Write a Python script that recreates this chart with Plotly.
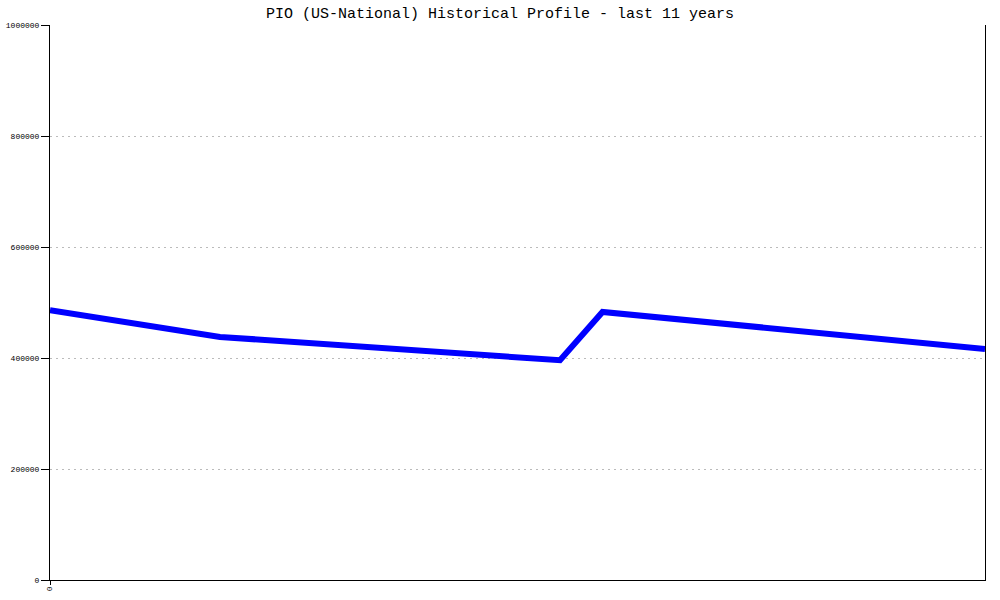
import plotly.graph_objects as go

years = [0, 2, 6, 6.5, 11]
values = [486000, 438000, 396000, 483000, 416000]
y_ticks = [0, 200000, 400000, 600000, 800000, 1000000]
title = "PIO (US-National) Historical Profile - last 11 years"

fig = go.Figure()
fig.add_trace(go.Scatter(x=years, y=values, mode="lines",
                         line=dict(color="#0000ff", width=6), hoverinfo="skip"))

fig.update_layout(
    width=1000, height=600,
    margin=dict(l=50, r=15, t=25, b=20, autoexpand=False),
    paper_bgcolor="white", plot_bgcolor="white",
    showlegend=False,
    title=dict(text=title, x=0.5, xanchor="center", y=1 - 13 / 600, yanchor="middle",
               font=dict(family="Liberation Mono", size=15, color="black")),
    font=dict(family="Liberation Mono", size=8, color="black"),
)
fig.update_xaxes(range=[0, 11], tickvals=[0], ticktext=["0"], tickangle=90,
                 automargin=False,
                 showgrid=False, zeroline=False, showline=True, linecolor="black",
                 linewidth=1, ticks="outside", ticklen=4, tickcolor="black",
                 tickfont=dict(family="Liberation Mono", size=8))
fig.update_yaxes(range=[0, 1000000], tickvals=y_ticks, ticktext=[str(v) for v in y_ticks],
                 automargin=False,
                 showgrid=True, gridcolor="#bbbbbb", griddash="2px,4px", gridwidth=1,
                 zeroline=False, showline=True, linecolor="black", linewidth=1,
                 mirror=True, ticks="outside", ticklen=8, tickcolor="black",
                 tickfont=dict(family="Liberation Mono", size=8))

div = fig.to_html(full_html=False, include_plotlyjs=True, config={"displayModeBar": False})
html = ("<!DOCTYPE html><html><head><meta charset='utf-8'>"
        "<style>html,body{margin:0;padding:0;overflow:hidden;background:white;}</style>"
        "</head><body>" + div + "</body></html>")
with open("out.html", "w", encoding="utf-8") as f:
    f.write(html)
